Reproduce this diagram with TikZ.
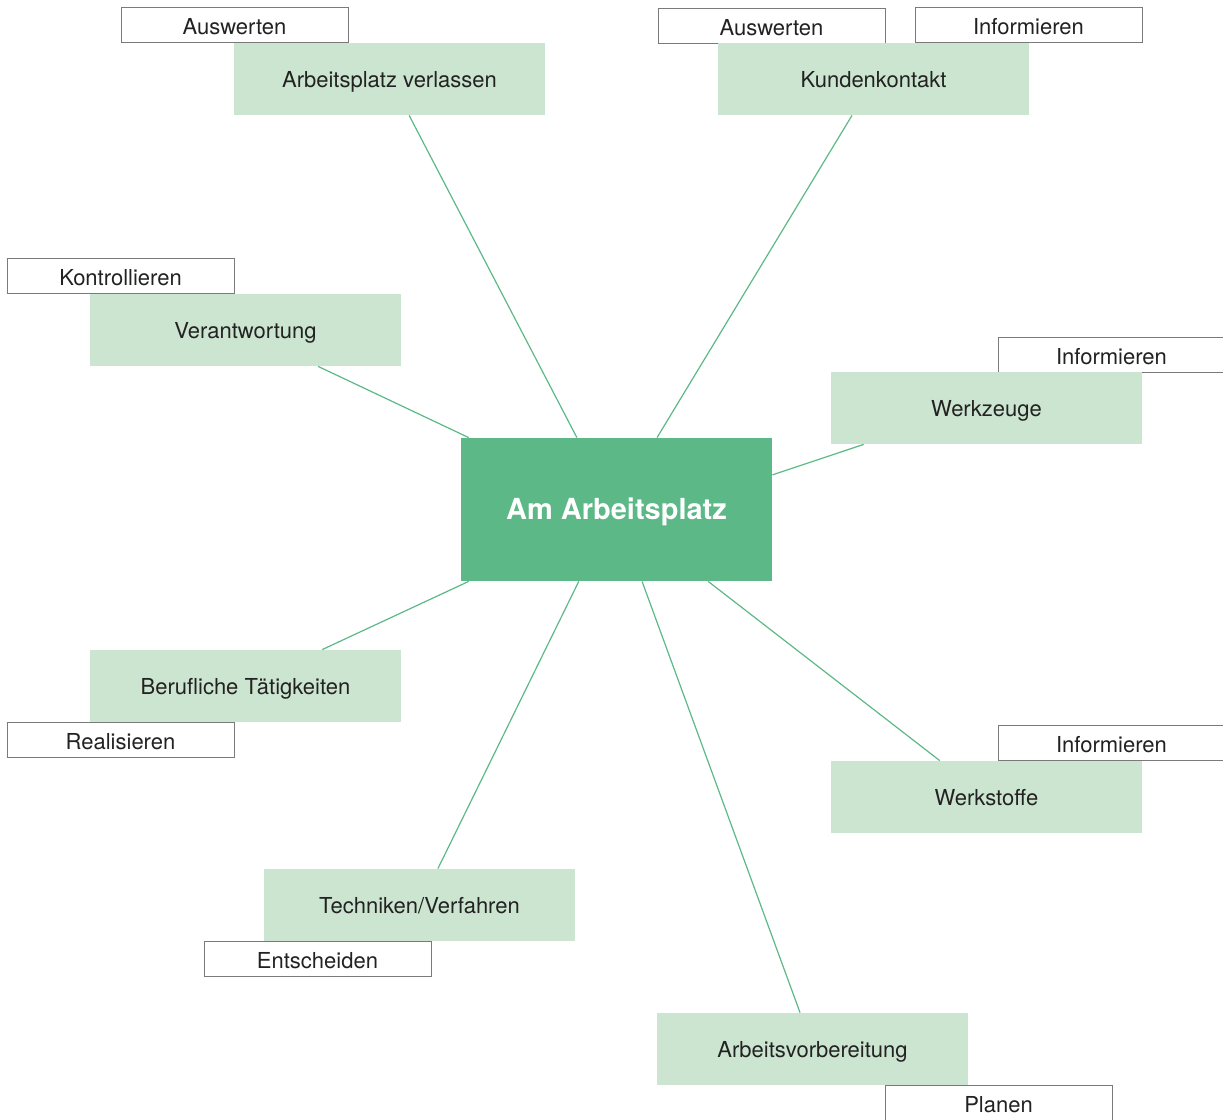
\documentclass[tikz,border=0pt]{standalone}
\usepackage{fontspec}
\setmainfont{TeX Gyre Heros}
\usetikzlibrary{calc}
\definecolor{hubgreen}{HTML}{5CB987}
\definecolor{leafgreen}{HTML}{CCE5D0}
\definecolor{tagframe}{HTML}{7A7A7A}
\definecolor{inkdark}{HTML}{222222}
\tikzset{
  hub/.style={fill=hubgreen, text=white, inner sep=0pt, minimum width=155.5pt, minimum height=71.5pt, text height=13.5pt, text depth=3.1pt, font=\fontsize{14.5}{17}\selectfont\bfseries},
  leaf/.style={fill=leafgreen, text=inkdark, inner sep=0pt, minimum width=155.5pt, minimum height=36pt, text height=11pt, text depth=2.3pt, font=\fontsize{11}{13}\selectfont},
  tag/.style={draw=tagframe, line width=0.5pt, fill=white, text=inkdark, inner sep=0pt, minimum width=113.5pt, minimum height=17.5pt, text height=10pt, text depth=0pt, font=\fontsize{11}{13}\selectfont},
  link/.style={draw=hubgreen, line width=0.6pt}
}

\begin{document}
\begin{tikzpicture}[x=0.5pt,y=-0.5pt]
        \clip (0,0) rectangle (1223,1120);
        %tags
        \node[tag] (ausw1) at (234.5,24.5)     {Auswerten};
        \node[tag] (ausw2) at (771.5,25.5)     {Auswerten};
        \node[tag] (info1) at (1028.5,24.5)     {Informieren};
        \node[tag] (kontr) at (120.5,275.5)     {Kontrollieren};
        \node[tag] (info2) at (1111.5,354.5)     {Informieren};
        \node[tag] (real) at (120.5,739.5)     {Realisieren};
        \node[tag] (info3) at (1111.5,742.5)     {Informieren};
        \node[tag] (entsch) at (317.5,958.5)     {Entscheiden};
        \node[tag] (planen) at (998.5,1102.5)     {Planen};
        %topics
        \node[leaf] (verl) at (389.5,79)     {Arbeitsplatz verlassen};
        \node[leaf] (kund) at (873.5,79)     {Kundenkontakt};
        \node[leaf] (verant) at (245.5,330)     {Verantwortung};
        \node[leaf] (werkz) at (986.5,408)     {Werkzeuge};
        \node[leaf] (beruf) at (245.5,686)     {Berufliche Tätigkeiten};
        \node[leaf] (werkst) at (986.5,797)     {Werkstoffe};
        \node[leaf] (techn) at (419.5,905)     {Techniken/Verfahren};
        \node[leaf] (vorb) at (812.5,1049)     {Arbeitsvorbereitung};
        %centre
        \node[hub] (hub) at (616.5,509.5)     {Am Arbeitsplatz};
        %edges to the centre
        \path[link] ($(verl.south west)!0.563!(verl.south east)$) -- ($(hub.north west)!0.373!(hub.north east)$);
        \path[link] ($(kund.south west)!0.431!(kund.south east)$) -- ($(hub.north west)!0.630!(hub.north east)$);
        \path[link] ($(verant.south west)!0.733!(verant.south east)$) -- ($(hub.north west)!0.026!(hub.north east)$);
        \path[link] ($(werkz.south west)!0.106!(werkz.south east)$) -- ($(hub.north east)!0.259!(hub.south east)$);
        \path[link] ($(beruf.north west)!0.746!(beruf.north east)$) -- ($(hub.south west)!0.026!(hub.south east)$);
        \path[link] ($(werkst.north west)!0.350!(werkst.north east)$) -- ($(hub.south west)!0.794!(hub.south east)$);
        \path[link] ($(techn.north west)!0.559!(techn.north east)$) -- ($(hub.south west)!0.379!(hub.south east)$);
        \path[link] ($(vorb.north west)!0.460!(vorb.north east)$) -- ($(hub.south west)!0.582!(hub.south east)$);
\end{tikzpicture}
\end{document}
